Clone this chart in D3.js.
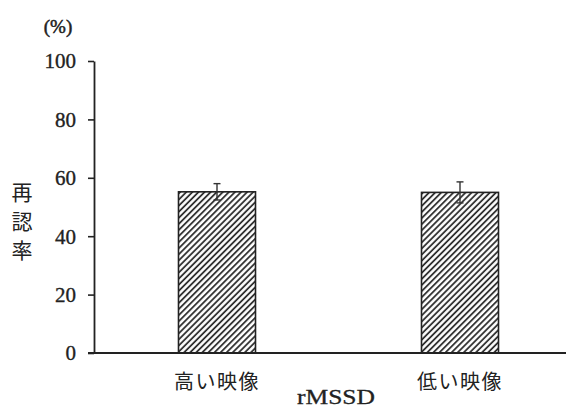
<!DOCTYPE html>
<html><head><meta charset="utf-8">
<script src="https://cdn.jsdelivr.net/npm/d3@7"></script>
<style>body{margin:0;background:#fff}svg{display:block}</style>
</head><body>
<svg id="c" width="569" height="409"></svg>
<script>
const categories = ["高い映像", "低い映像"];
const values = [55.2, 55.0];
const errors = [2.8, 3.6];
const yTicks = [0, 20, 40, 60, 80, 100];
const yLabelChars = ["再", "認", "率"];
const xTitle = "rMSSD";
const unitLabel = "(%)";

const svg = d3.select("#c");
const serif = "'Liberation Serif', 'DejaVu Serif', serif";
const cjk = "'Noto Sans CJK JP', sans-serif";

const y = d3.scaleLinear().domain([0, 100]).range([353, 61]);
const centers = d3.scalePoint().domain(categories).range([217, 460]);
const barW = 77;

const defs = svg.append("defs");
const pat = defs.append("pattern").attr("id", "hatch").attr("patternUnits", "userSpaceOnUse")
  .attr("width", 4.3).attr("height", 10).attr("patternTransform", "rotate(45)");
pat.append("rect").attr("width", 4.3).attr("height", 10).attr("fill", "#fff");
pat.append("line").attr("x1", 1).attr("x2", 1).attr("y1", 0).attr("y2", 10)
  .attr("stroke", "#222").attr("stroke-width", 1.7);

// bars
svg.selectAll("rect.bar").data(values).join("rect").attr("class", "bar")
  .attr("x", (d, i) => centers(categories[i]) - barW / 2)
  .attr("width", barW)
  .attr("y", d => y(d))
  .attr("height", d => y(0) - y(d))
  .attr("fill", "url(#hatch)")
  .attr("stroke", "#222").attr("stroke-width", 1.6);

// error bars
const eg = svg.append("g").attr("stroke", "#333").attr("stroke-width", 1.4);
values.forEach((v, i) => {
  const cx = centers(categories[i]);
  eg.append("line").attr("x1", cx).attr("x2", cx).attr("y1", y(v + errors[i])).attr("y2", y(v - errors[i]));
  eg.append("line").attr("x1", cx - 3.5).attr("x2", cx + 3.5).attr("y1", y(v + errors[i])).attr("y2", y(v + errors[i]));
  eg.append("line").attr("x1", cx - 3.5).attr("x2", cx + 3.5).attr("y1", y(v - errors[i])).attr("y2", y(v - errors[i]));
});

// y axis
const yAxis = svg.append("g").attr("transform", "translate(94,0)")
  .call(d3.axisLeft(y).tickValues(yTicks).tickSize(6).tickPadding(12).tickSizeOuter(0));
yAxis.attr("font-family", null).attr("font-size", null);
yAxis.select(".domain").attr("stroke", "#222").attr("stroke-width", 1.8);
yAxis.selectAll(".tick line").attr("stroke", "#222").attr("stroke-width", 1.6);
yAxis.selectAll(".tick text").style("font-family", serif).style("font-size", "21px")
  .attr("fill", "#222").attr("stroke", "#222").attr("stroke-width", 0.35).attr("dy", "0.33em");

// x axis line
svg.append("line").attr("x1", 88).attr("x2", 566).attr("y1", y(0)).attr("y2", y(0))
  .attr("stroke", "#222").attr("stroke-width", 2);

// category labels
svg.selectAll("text.cat").data(categories).join("text").attr("class", "cat")
  .attr("x", d => centers(d)).attr("y", 389)
  .attr("text-anchor", "middle").style("font-family", cjk).style("font-size", "20px")
  .attr("letter-spacing", 1.5).attr("fill", "#222").text(d => d);

// x title
svg.append("text").attr("x", 336).attr("y", 404).attr("text-anchor", "middle")
  .style("font-family", serif).style("font-size", "21px").attr("fill", "#222")
  .attr("stroke", "#222").attr("stroke-width", 0.3)
  .attr("textLength", 78).attr("lengthAdjust", "spacingAndGlyphs").text(xTitle);

// unit label
svg.append("text").attr("x", 58).attr("y", 33).attr("text-anchor", "middle")
  .style("font-family", serif).style("font-size", "19px")
  .attr("fill", "#222").attr("stroke", "#222").attr("stroke-width", 0.5).text(unitLabel);

// y label vertical
svg.selectAll("text.yl").data(yLabelChars).join("text").attr("class", "yl")
  .attr("x", 22).attr("y", (d, i) => 192 + i * 29).attr("dy", "0.36em")
  .attr("text-anchor", "middle").style("font-family", cjk).style("font-size", "21px")
  .attr("fill", "#222").text(d => d);
</script>
</body></html>
